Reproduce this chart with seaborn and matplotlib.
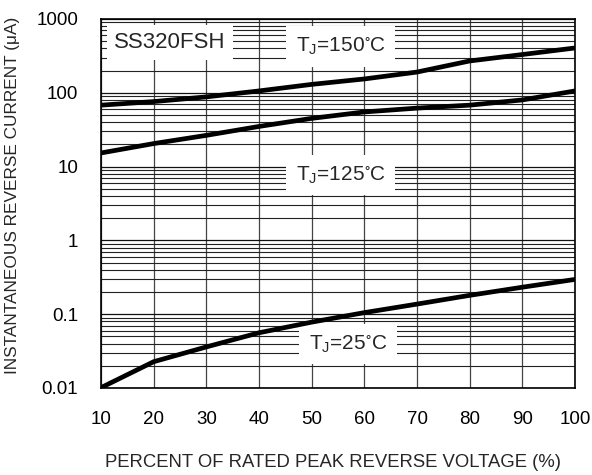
import numpy as np
import pandas as pd
import seaborn as sns
import matplotlib
matplotlib.use('Agg')
import matplotlib.pyplot as plt
from matplotlib.ticker import LogLocator, NullFormatter

sns.set_style('white')
plt.rcParams['font.family'] = ['Liberation Sans', 'DejaVu Sans']
plt.rcParams['mathtext.default'] = 'regular'

# percent of rated peak reverse voltage
voltage = [10, 20, 30, 40, 50, 60, 70, 80, 90, 100]
# reverse current (uA) at each junction temperature
i_150 = [68, 76, 88, 106, 130, 154, 191, 270, 330, 405]
i_125 = [15.3, 20.5, 26.5, 35, 45, 55, 62, 68, 80, 106]
i_25 = [0.0101, 0.0227, 0.036, 0.056, 0.078, 0.105, 0.137, 0.18, 0.232, 0.296]

y_ticks = [0.01, 0.1, 1, 10, 100, 1000]
y_ticklabels = ['0.01', '0.1', '1', '10', '100', '1000']

df = pd.concat([
    pd.DataFrame({'v': voltage, 'i': i_150, 'tj': '150'}),
    pd.DataFrame({'v': voltage, 'i': i_125, 'tj': '125'}),
    pd.DataFrame({'v': voltage, 'i': i_25, 'tj': '25'}),
])

fig = plt.figure(figsize=(5.92, 4.75), dpi=100)
ax = fig.add_axes([0.1706, 0.1832, 0.8007, 0.7768])

sns.lineplot(data=df, x='v', y='i', units='tj', estimator=None, color='black',
             linewidth=3.4, ax=ax, legend=False, zorder=5)

ax.set_yscale('log')
ax.set_xlim(10, 100)
ax.set_ylim(0.01, 1000)
ax.set_xticks(voltage)
ax.set_yticks(y_ticks)
ax.set_yticklabels(y_ticklabels)
ax.yaxis.set_minor_locator(LogLocator(base=10, subs=np.arange(2, 10)))
ax.yaxis.set_minor_formatter(NullFormatter())

ax.grid(True, which='major', axis='x', color='#444444', linewidth=0.9)
ax.grid(True, which='major', axis='y', color='#111111', linewidth=0.9)
ax.grid(True, which='minor', axis='y', color='#222222', linewidth=0.8)
ax.tick_params(axis='both', which='major', direction='in', length=4, width=1,
               labelsize=13.5, colors='black', pad=16.5)
ax.tick_params(axis='y', which='minor', length=0)
for s in ax.spines.values():
    s.set_color('black')
    s.set_linewidth(1.2)

ax.set_xlabel('PERCENT OF RATED PEAK REVERSE VOLTAGE (%)', fontsize=13.3)
ax.set_ylabel('INSTANTANEOUS REVERSE CURRENT (\u03bcA)', fontsize=12.4)
ax.xaxis.set_label_coords(0.49, -0.203)
ax.xaxis.label.set_verticalalignment('center')
ax.yaxis.set_label_coords(-0.187, 0.523)
ax.yaxis.label.set_verticalalignment('center')

ax.text(23.1, 480, 'SS320FSH', fontsize=16, ha='center', va='center',
        bbox=dict(facecolor='white', edgecolor='none', pad=5), zorder=4)
ax.text(55.5, 424, r'T$_J$=150$^{\circ}$C', fontsize=15, ha='center', va='center',
        bbox=dict(facecolor='white', edgecolor='none', pad=7), zorder=4)
ax.text(55.5, 7.7, r'T$_J$=125$^{\circ}$C', fontsize=15, ha='center', va='center',
        bbox=dict(facecolor='white', edgecolor='none', pad=7), zorder=4)
ax.text(56.9, 0.0395, r'T$_J$=25$^{\circ}$C', fontsize=15, ha='center', va='center',
        bbox=dict(facecolor='white', edgecolor='none', pad=7), zorder=4)

fig.savefig('out.png', dpi=100)
